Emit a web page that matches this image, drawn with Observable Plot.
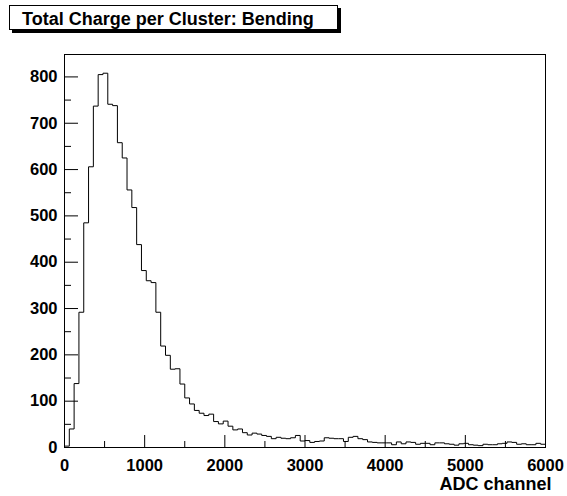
<!DOCTYPE html>
<html>
<head>
<meta charset="utf-8">
<script src="https://cdn.jsdelivr.net/npm/d3@7"></script>
<script src="https://cdn.jsdelivr.net/npm/@observablehq/plot@0.6"></script>
<style>
  html, body { margin: 0; padding: 0; background: #fff; }
  #wrap { position: relative; width: 567px; height: 496px; }
  #title {
    position: absolute; left: 9px; top: 5px; width: 327px; height: 23px;
    border: 1px solid #000; background: #fff; box-shadow: 3px 3px 0 #000;
    font: bold 18px "Liberation Sans", Arial, sans-serif; color: #000;
    box-sizing: content-box;
  }
  #title span { position: absolute; left: 12px; top: 2px; line-height: 22px; white-space: nowrap; }
</style>
</head>
<body>
<div id="wrap"><div id="title"><span></span></div></div>
<script>
const titleText = "Total Charge per Cluster: Bending";
const xTitle = "ADC channel";
const xMin = 0, xMax = 6000, binWidth = 60;
// counts per 60-channel bin, bins 0..99
const counts = [
  3, 40, 138, 292, 485, 606, 737, 805, 808, 741,
  738, 658, 625, 556, 518, 438, 382, 360, 356, 292,
  219, 199, 169, 170, 137, 107, 94, 80, 74, 69,
  72, 56, 51, 57, 46, 38, 40, 32, 27, 31,
  29, 26, 24, 19, 22, 20, 19, 21, 26, 14,
  15, 11, 13, 14, 21, 20, 19, 19, 13, 22,
  24, 19, 17, 12, 11, 10, 10, 10, 6, 12,
  8, 12, 11, 7, 9, 9, 6, 10, 10, 8,
  7, 5, 8, 9, 6, 5, 4, 7, 6, 6,
  8, 9, 12, 11, 7, 8, 6, 6, 9, 7
];
const xTicks = [0, 1000, 2000, 3000, 4000, 5000, 6000];
const xMinorTicks = [500, 1500, 2500, 3500, 4500, 5500];
const yTicks = [0, 100, 200, 300, 400, 500, 600, 700, 800];
const yMinorTicks = [50, 150, 250, 350, 450, 550, 650, 750];

const edges = counts.map((_, i) => xMin + i * binWidth);
const steps = edges.map((e, i) => ({x: e, y: counts[i]}));
steps.push({x: xMax, y: counts[counts.length - 1]});
const yMax = 1.05 * d3.max(counts);

const W = 567, H = 496, mL = 64, mR = 22, mT = 54, mB = 49;
const fw = W - mL - mR, fh = H - mT - mB;

const chart = Plot.plot({
  width: W, height: H,
  marginLeft: mL, marginRight: mR, marginTop: mT, marginBottom: mB,
  style: {fontFamily: '"Liberation Sans", Arial, sans-serif', fontSize: "16.5px", fontWeight: "bold", color: "#000", background: "#fff"},
  x: {domain: [xMin, xMax]},
  y: {domain: [0, yMax]},
  marks: [
    Plot.line(steps, {x: "x", y: "y", curve: "step-after", stroke: "#000", strokeWidth: 1}),
    Plot.tickY(yTicks, {y: d => d, stroke: "#000", insetRight: fw - 14}),
    Plot.tickY(yMinorTicks, {y: d => d, stroke: "#000", insetRight: fw - 7}),
    Plot.tickX(xTicks, {x: d => d, stroke: "#000", insetTop: fh - 12}),
    Plot.tickX(xMinorTicks, {x: d => d, stroke: "#000", insetTop: fh - 6}),
    Plot.frame({stroke: "#000", strokeWidth: 1}),
    Plot.axisY(yTicks, {tickSize: 0, tickPadding: 7, label: null, fill: "#000", tickFormat: d => String(d)}),
    Plot.axisX(xTicks, {tickSize: 0, tickPadding: 12, label: null, fill: "#000", tickFormat: d => String(d)}),
    Plot.text([xTitle], {text: d => d, frameAnchor: "bottom-right", textAnchor: "end", lineAnchor: "middle", dy: 37, dx: 6, fontSize: 18, fill: "#000"})
  ]
});
document.getElementById("wrap").prepend(chart);
document.querySelector("#title span").textContent = titleText;
</script>
</body>
</html>
